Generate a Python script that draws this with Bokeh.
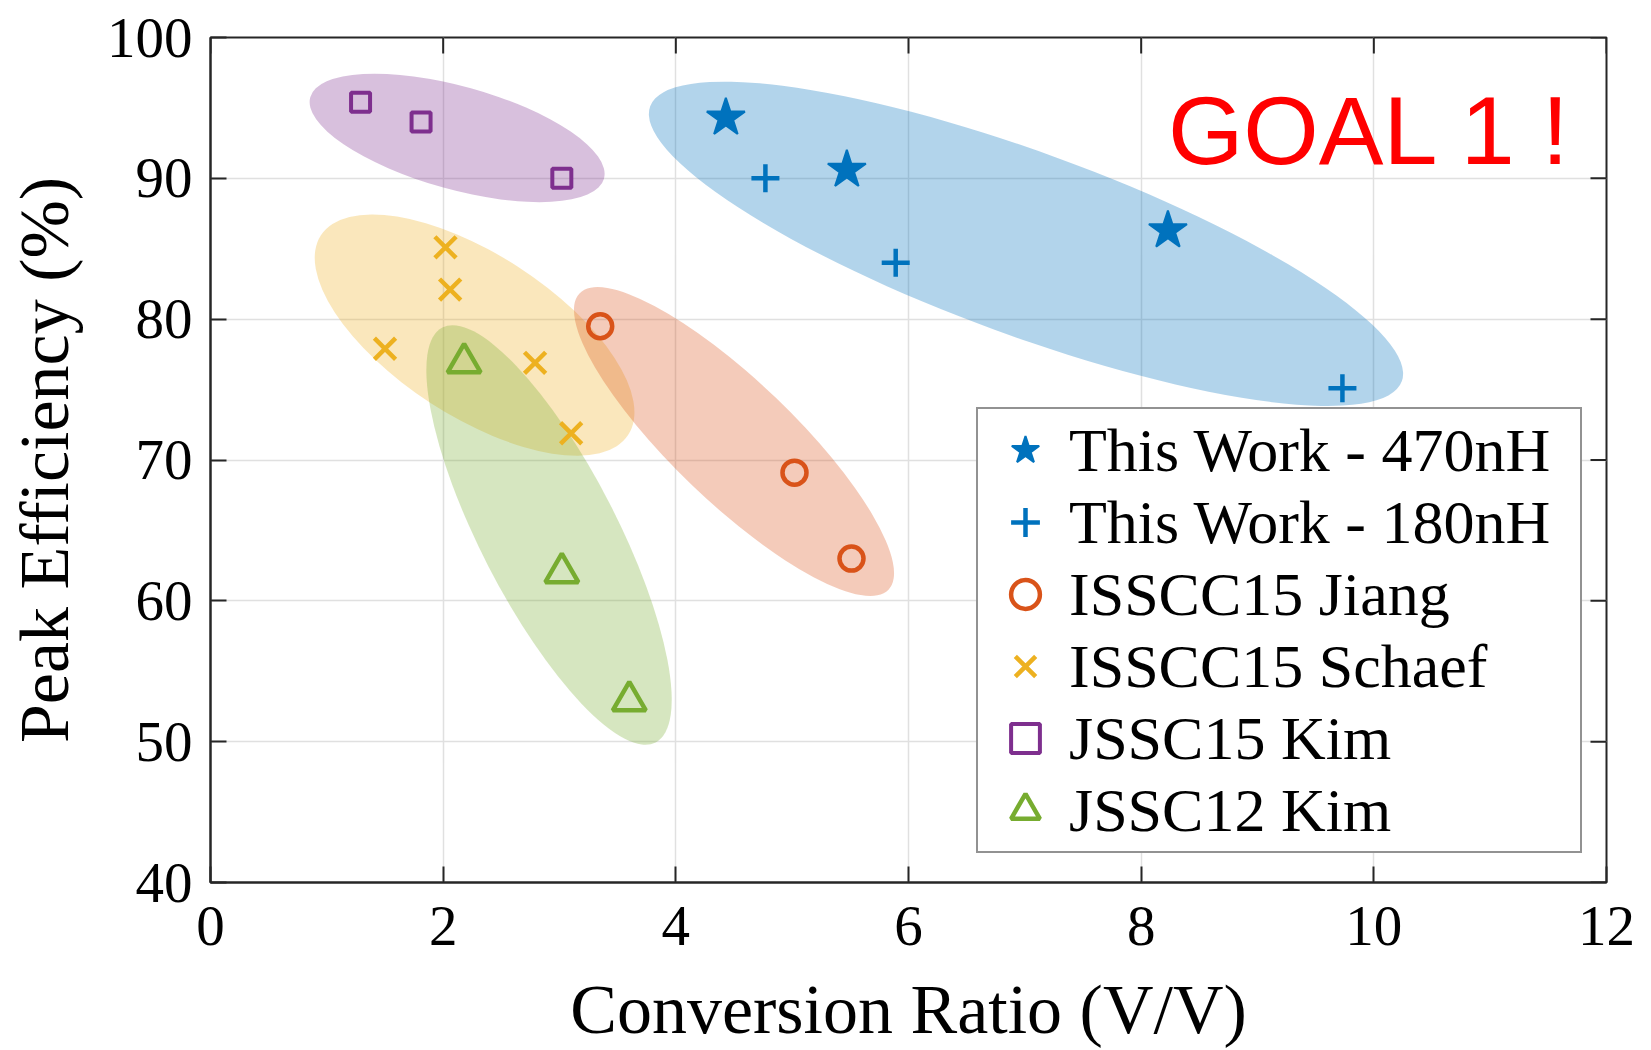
import math
from bokeh.plotting import figure
from bokeh.models import Legend, LegendItem, FixedTicker
from bokeh.embed import file_html
from bokeh.resources import INLINE
from bokeh.core.properties import value

# ---------------- data ----------------
x_ticks = [0, 2, 4, 6, 8, 10, 12]
y_ticks = [40, 50, 60, 70, 80, 90, 100]

tw470_x = [4.43, 5.47, 8.23]
tw470_y = [94.3, 90.6, 86.3]
tw180_x = [4.77, 5.89, 9.73]
tw180_y = [90.0, 84.0, 75.1]
jiang_x = [3.35, 5.02, 5.51]
jiang_y = [79.5, 69.1, 63.0]
schaef_x = [2.02, 2.06, 1.50, 2.79, 3.10]
schaef_y = [85.1, 82.1, 77.9, 76.9, 71.9]
kim15_x = [1.29, 1.81, 3.02]
kim15_y = [95.4, 94.0, 90.0]
kim12_x = [2.18, 3.02, 3.60]
kim12_y = [76.9, 62.0, 52.9]

labels = ["This Work - 470nH", "This Work - 180nH", "ISSCC15 Jiang",
          "ISSCC15 Schaef", "JSSC15 Kim", "JSSC12 Kim"]

# group ellipses (center, width along x, height along y, tilt in degrees)
ell_x = [7.01, 2.12, 2.27, 4.50, 2.91]
ell_y = [85.35, 92.87, 78.87, 71.31, 64.68]
ell_w = [6.88, 2.62, 3.15, 3.68, 4.01]
ell_h = [13.0, 7.32, 11.49, 8.60, 9.70]
ell_deg = [-20.1, -15.5, -33.0, -43.8, -62.8]

goal_text = "GOAL 1 !"
goal_x = 8.23
goal_y = 93.4

# ---------------- styles ----------------
BLUE = "#0072BD"
ORANGE = "#D95319"
YELLOW = "#EDB120"
PURPLE = "#7E2F8E"
GREEN = "#77AC30"
ell_colors = [BLUE, PURPLE, YELLOW, ORANGE, GREEN]
AX = "#262626"
SERIF = "Liberation Serif"
X0, X1 = 0, 12
Y0, Y1 = 40, 100

p = figure(width=1651, height=1050, x_range=(X0, X1), y_range=(Y0, Y1),
           output_backend="svg", toolbar_location=None,
           min_border_left=210, min_border_right=45,
           min_border_top=37, min_border_bottom=167)
p.background_fill_color = "white"
p.border_fill_color = "white"
p.outline_line_color = AX
p.outline_line_width = 2

for ax in (p.xaxis[0], p.yaxis[0]):
    ax.major_label_text_font = SERIF
    ax.major_label_text_font_size = "57px"
    ax.major_label_text_color = "black"
    ax.axis_label_text_font = SERIF
    ax.axis_label_text_font_size = "70px"
    ax.axis_label_text_font_style = "normal"
    ax.axis_label_text_color = "black"
    ax.major_tick_in = 16
    ax.major_tick_out = 0
    ax.minor_tick_line_color = None
    ax.major_tick_line_color = AX
    ax.major_tick_line_width = 2
    ax.axis_line_color = AX
    ax.axis_line_width = 2

p.xaxis.ticker = FixedTicker(ticks=x_ticks)
p.yaxis.ticker = FixedTicker(ticks=y_ticks)
p.xaxis.axis_label = "Conversion Ratio (V/V)"
p.yaxis.axis_label = "Peak Efficiency (%)"
p.xaxis.major_label_standoff = 24
p.xaxis.axis_label_standoff = 23
p.yaxis.major_label_standoff = 18
p.yaxis.axis_label_standoff = 21

p.xgrid.ticker = FixedTicker(ticks=x_ticks)
p.ygrid.ticker = FixedTicker(ticks=y_ticks)
p.xgrid.grid_line_color = "#e0e0e0"
p.ygrid.grid_line_color = "#e0e0e0"
p.xgrid.grid_line_width = 1.5
p.ygrid.grid_line_width = 1.5

# inward ticks on the top and right edges of the box
p.ray(x=x_ticks, y=[Y1] * len(x_ticks), length=16, length_units="screen",
      angle=-math.pi / 2, line_color=AX, line_width=2)
p.ray(x=[X1] * len(y_ticks), y=y_ticks, length=16, length_units="screen",
      angle=math.pi, line_color=AX, line_width=2)

# ellipses
p.ellipse(x=ell_x, y=ell_y, width=ell_w, height=ell_h,
          angle=[math.radians(a) for a in ell_deg],
          fill_color=ell_colors, fill_alpha=0.3, line_color=None)

r1 = p.scatter(tw470_x, tw470_y, marker="star", size=40, fill_color=BLUE,
               line_color=BLUE, line_width=2)
r2 = p.scatter(tw180_x, tw180_y, marker="cross", size=28, line_color=BLUE, line_width=4.5)
r3 = p.scatter(jiang_x, jiang_y, marker="circle", size=24, fill_color=None,
               line_color=ORANGE, line_width=4.5)
r4 = p.scatter(schaef_x, schaef_y, marker="x", size=30, line_color=YELLOW, line_width=4.5)
r5 = p.scatter(kim15_x, kim15_y, marker="square", size=19, fill_color=None,
               line_color=PURPLE, line_width=4)
r6 = p.scatter(kim12_x, kim12_y, marker="triangle", size=33, fill_color=None,
               line_color=GREEN, line_width=4.5)

p.text(x=[goal_x], y=[goal_y], text=[goal_text], text_font=value("Liberation Sans"),
       text_font_size="97px", text_color="#FF0000", text_baseline="alphabetic",
       text_align="left")

legend = Legend(items=[LegendItem(label=l, renderers=[r]) for l, r in
                       zip(labels, [r1, r2, r3, r4, r5, r6])],
                location=(766, 29), label_text_font=SERIF, label_text_font_size="62px",
                label_text_color="black",
                glyph_width=84, glyph_height=72, label_height=72, label_width=506,
                label_standoff=2, spacing=-1, padding=5, margin=0,
                border_line_color=AX, border_line_width=2,
                background_fill_color="white", background_fill_alpha=1)
p.add_layout(legend, "center")

open("out.html", "w").write(file_html(p, INLINE))
